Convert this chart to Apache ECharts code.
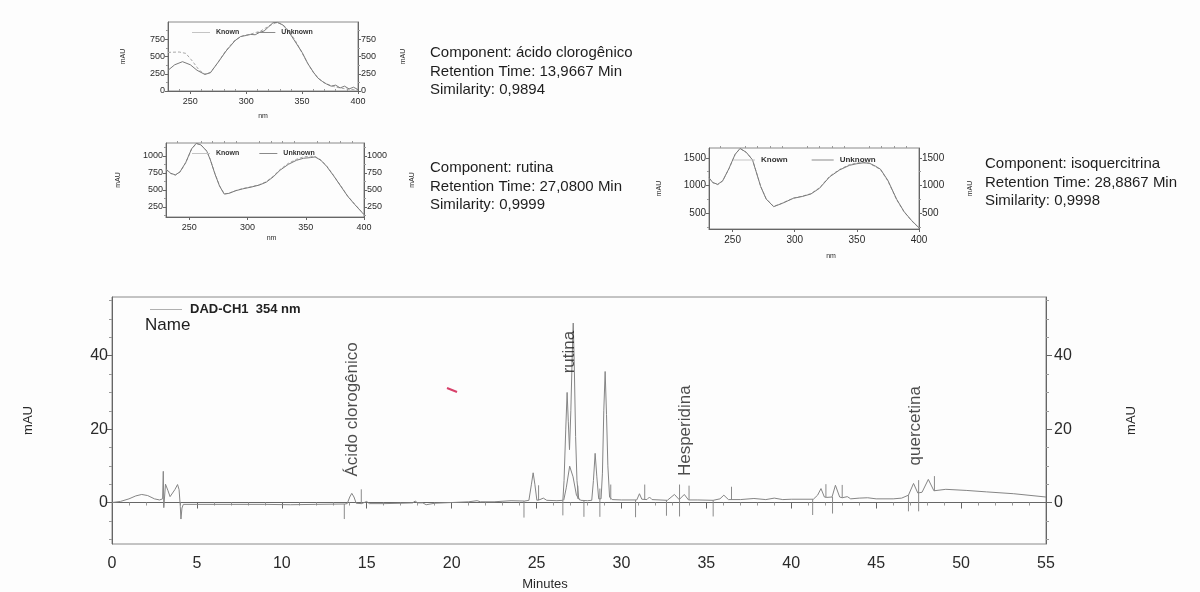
<!DOCTYPE html>
<html>
<head>
<meta charset="utf-8">
<script src="https://cdn.jsdelivr.net/npm/echarts@6/dist/echarts.min.js"></script>
<style>
  html, body { margin: 0; padding: 0; background: #fdfdfd; }
  #chart { width: 1200px; height: 592px; }
</style>
</head>
<body>
<div id="chart"></div>
<script>
const FONT = 'Liberation Sans, Arial, sans-serif';

// DAD-CH1 354 nm chromatogram, [minutes, mAU]
const dadTrace = [
  [0, 0.0], [0.5, 0.3], [1.0, 1.0], [1.4, 1.8], [1.75, 2.2], [2.1, 1.9], [2.5, 1.0], [2.8, 0.7], [2.98, 1.0],
  [3.02, 8.5], [3.05, -1.4], [3.15, 5.0], [3.3, 3.2], [3.42, 1.6], [3.53, 1.3], [3.7, 3.5], [3.86, 4.9],
  [3.95, 3.5], [4.02, -1.0], [4.06, -4.5], [4.12, -1.5], [4.2, -0.5],
  [5, -0.5], [7, -0.5], [9, -0.5], [10.5, -0.6], [12, -0.5], [13.7, -0.4],
  [13.85, -0.3], [14.0, 1.5], [14.12, 2.5], [14.25, 1.5], [14.38, -0.2], [14.7, -0.3], [15.0, 0.3], [15.15, -0.3],
  [16, -0.3], [17, -0.2], [17.7, -0.1], [17.85, 0.4], [18.0, -0.1], [18.3, -0.1], [18.5, -0.6], [19, -0.2],
  [20, 0.0], [21, 0.2], [21.5, 0.5], [21.7, 0.2], [22.5, 0.2], [23.5, 0.5], [24.3, 0.4],
  [24.55, 0.6], [24.7, 5.0], [24.8, 8.1], [24.9, 5.0], [25.02, 0.6], [25.2, 0.8], [25.4, 1.2], [25.6, 0.6],
  [26.2, 0.5], [26.55, 0.6],
  [26.62, 6], [26.72, 20], [26.8, 30], [26.87, 22], [26.94, 14.4], [27.02, 25], [27.1, 40], [27.16, 48.9],
  [27.22, 38], [27.3, 18], [27.38, 6], [27.48, 1.2], [27.6, 0.6], [28.0, 0.5], [28.25, 0.6],
  [28.35, 6], [28.45, 13.4], [28.55, 7], [28.66, 1.0], [28.8, 1.0],
  [28.88, 8], [28.96, 25], [29.04, 35.7], [29.12, 24], [29.2, 10], [29.3, 1.5], [29.45, 0.8],
  [30, 0.7], [30.9, 0.7], [31.06, 2.4], [31.2, 0.9], [31.5, 0.8], [31.65, 1.5], [31.8, 0.8],
  [32.7, 0.6], [33.12, 2.2], [33.4, 0.8], [33.7, 2.2], [33.95, 0.7], [34.5, 0.7],
  [35.4, 0.6], [35.8, 1.0], [36.03, 2.0], [36.3, 0.8], [37, 0.8], [37.8, 1.1], [38.5, 0.8], [39, 1.2],
  [39.5, 0.8], [40, 0.9], [41.3, 0.9], [41.55, 2.0], [41.75, 3.8], [41.95, 1.5], [42.1, 1.4], [42.4, 1.5],
  [42.6, 4.7], [42.85, 1.5], [43.0, 1.3], [43.3, 1.6], [43.5, 1.0], [44, 1.2], [44.5, 1.3], [45, 1.0],
  [46, 1.0], [46.5, 1.2], [46.9, 2.0], [47.2, 5.2], [47.45, 2.6], [47.7, 2.8], [48.07, 6.3], [48.4, 3.2],
  [49.1, 3.6], [50.3, 3.3], [51.5, 2.9], [53.1, 2.4], [55, 1.5]
];

// broad envelope under the rutina doublet
const rutinaEnvelope = [[26.6, 0.6], [26.75, 4.0], [26.95, 9.9], [27.15, 7.0], [27.35, 2.0], [27.55, 0.6]];

// integration start/end marks, [minutes, from mAU, to mAU]
const integrationMarks = [
  [13.68, -4.5, -0.4], [14.68, -0.3, 3.6],
  [24.26, -4.1, 0.4], [25.12, 0.6, 4.7],
  [26.55, -3.5, 0.6], [27.43, 1.0, 4.6], [27.79, -3.9, 0.5], [28.73, -3.9, 3.8], [29.37, 0.8, 4.9],
  [30.83, -4.0, 0.7], [31.37, 0.8, 4.9], [32.65, -3.6, 0.6], [33.42, -3.8, 4.9], [33.98, 0.7, 4.6],
  [35.4, -3.8, 0.6], [36.48, 0.8, 4.3],
  [41.26, -3.4, 0.9], [42.04, 1.4, 5.0], [42.43, -3.0, 1.5], [43.0, 1.3, 4.8],
  [46.9, -2.4, 2.0], [47.5, -2.4, 6.1], [48.43, 3.2, 7.2]
];

const peakNames = ['Ácido clorogênico', 'rutina', 'Hesperidina', 'quercetina'];
const peakLabelAt = [[14.15, 7.1], [26.94, 35.2], [33.76, 7.2], [47.33, 10.1]];

const mauTicks = [0, 20, 40];
const mauMinorTicks = [-10, -5, 5, 10, 15, 25, 30, 35, 45, 50, 55];

// UV spectra, [nm, mAU]
const nmTicks = [250, 300, 350, 400];
const nmMinorTicks = [240, 260, 270, 280, 290, 310, 320, 330, 340, 360, 370, 380, 390];

const spec1Ticks = [0, 250, 500, 750];
const spec1Known = [
  [230, 560], [240, 565], [246, 545], [252, 430], [258, 300], [263, 245], [268, 270], [275, 420], [282, 590],
  [290, 740], [297, 800], [305, 830], [313, 870], [320, 940], [326, 985], [330, 980], [335, 930], [340, 830],
  [345, 700], [350, 550], [355, 400], [360, 270], [365, 175], [370, 115], [378, 65], [385, 40], [392, 25], [400, 15]
];
const spec1Unknown = [
  [230, 300], [236, 380], [243, 425], [250, 380], [256, 300], [263, 240], [268, 265], [275, 420], [282, 580],
  [290, 730], [295, 790], [300, 805], [304, 820], [308, 815], [312, 850], [316, 870], [320, 930], [324, 990],
  [328, 995], [333, 955], [338, 860], [344, 710], [350, 560], [355, 400], [360, 275], [364, 190], [368, 140],
  [372, 100], [376, 70], [380, 85], [384, 45], [388, 70], [392, 30], [396, 55], [400, 20]
];

const spec2Ticks = [250, 500, 750, 1000];
const spec2Known = [
  [230, 800], [234, 740], [238, 716], [242, 760], [247, 900], [252, 1100], [256, 1182], [260, 1160], [265, 1074],
  [268, 950], [272, 741], [276, 560], [280, 440], [284, 450], [290, 490], [296, 520], [303, 545], [310, 575],
  [316, 620], [322, 700], [328, 800], [335, 890], [342, 950], [348, 985], [354, 995], [358, 990], [363, 940],
  [368, 850], [374, 710], [380, 560], [386, 410], [392, 290], [400, 140]
];
const spec2Unknown = [
  [230, 805], [234, 745], [238, 720], [242, 765], [247, 905], [252, 1105], [256, 1185], [260, 1162], [265, 1070],
  [268, 945], [272, 735], [276, 555], [280, 438], [284, 448], [290, 488], [296, 515], [303, 540], [310, 570],
  [316, 612], [322, 690], [328, 790], [335, 875], [342, 935], [348, 965], [354, 975], [358, 985], [363, 935],
  [368, 845], [374, 705], [380, 555], [386, 405], [392, 285], [400, 135]
];

const spec3Ticks = [500, 1000, 1500];
const spec3Known = [
  [231, 1136], [234, 1050], [238, 1015], [242, 1080], [247, 1300], [252, 1560], [256, 1669], [261, 1600],
  [266, 1469], [269, 1250], [272.6, 984], [277, 760], [283, 620], [290, 680], [299, 773], [306, 805], [313, 851],
  [320, 960], [328, 1166], [336, 1290], [344, 1378], [350, 1410], [355, 1420], [360, 1400], [365, 1340],
  [369, 1287], [375, 1080], [382, 742], [388, 520], [394, 360], [400, 227]
];
const spec3Unknown = [
  [231, 1140], [234, 1055], [238, 1020], [242, 1085], [247, 1305], [252, 1565], [256, 1672], [261, 1602],
  [266, 1465], [269, 1245], [272.6, 980], [277, 755], [283, 615], [290, 676], [299, 768], [306, 800], [313, 845],
  [320, 950], [328, 1155], [336, 1280], [344, 1365], [350, 1395], [355, 1410], [360, 1405], [365, 1350],
  [369, 1295], [375, 1090], [382, 750], [388, 525], [394, 365], [400, 232]
];

const componentNames = ['ácido clorogênico', 'rutina', 'isoquercitrina'];
const retentionTimes = ['13,9667', '27,0800', '28,8867'];
const similarities = ['0,9894', '0,9999', '0,9998'];

// ---------------------------------------------------------------------------
const chart = echarts.init(document.getElementById('chart'));

const AXIS_COLOR = '#666';
const TEXT_COLOR = '#2a2a2a';
const TRACE_COLOR = '#858585';
const plain = v => String(v);

const grids = [
  { left: 112, top: 297, width: 934, height: 248 },
  { left: 168, top: 22, width: 190, height: 69 },
  { left: 166, top: 143, width: 198, height: 74 },
  { left: 709, top: 148, width: 210, height: 81 }
].map(g => Object.assign({ show: true, borderColor: '#8a8a8a', borderWidth: 1, backgroundColor: 'transparent' }, g));

const specX = [
  { min: 230, max: 400, font: 9, nameGap: 22, namePad: [0, 0, 0, 0] },
  { min: 230, max: 400, font: 9, nameGap: 18, namePad: [0, 0, 0, 13] },
  { min: 231, max: 400, font: 10, nameGap: 24, namePad: [0, 0, 0, 34] }
];
const specY = [
  { min: 0, max: 1000, ticks: spec1Ticks, font: 9, gapL: 41, gapR: 42 },
  { min: 100, max: 1190, ticks: spec2Ticks, font: 9, gapL: 44, gapR: 45 },
  { min: 210, max: 1680, ticks: spec3Ticks, font: 10, gapL: 46, gapR: 48 }
];
const specMinorY = [
  [125, 375, 625, 875],
  [125, 375, 625, 875, 1125],
  [250, 750, 1250]
];

const xAxes = [{
  type: 'value', gridIndex: 0, min: 0, max: 55, interval: 5,
  axisLine: { show: true, lineStyle: { color: AXIS_COLOR } },
  axisTick: { show: true, length: 6, lineStyle: { color: AXIS_COLOR } },
  minorTick: { show: true, splitNumber: 5, length: 3, lineStyle: { color: '#999' } },
  axisLabel: { fontFamily: FONT, fontSize: 16, color: TEXT_COLOR, margin: 12, formatter: plain },
  splitLine: { show: false },
  name: 'Minutes', nameLocation: 'middle', nameGap: 34,
  nameTextStyle: { fontFamily: FONT, fontSize: 13, color: TEXT_COLOR, padding: [0, 68, 0, 0] }
}];
const yAxes = [];

function yPair(gridIndex, position, min, max, major, minor, font, gap, tickLen) {
  yAxes.push({
    type: 'value', gridIndex, position, min, max,
    axisLine: { show: true, lineStyle: { color: AXIS_COLOR } },
    axisTick: { show: true, length: tickLen, customValues: major, lineStyle: { color: AXIS_COLOR } },
    axisLabel: {
      customValues: major, formatter: plain, fontFamily: FONT, fontSize: font, color: TEXT_COLOR,
      margin: gridIndex === 0 ? (position === 'right' ? 8 : 4) : 3
    },
    splitLine: { show: false },
    name: 'mAU', nameLocation: 'middle', nameGap: gap, nameRotate: 90,
    nameTextStyle: { fontFamily: FONT, fontSize: gridIndex === 0 ? 13 : 7, color: TEXT_COLOR }
  });
  yAxes.push({
    type: 'value', gridIndex, position, min, max,
    axisLine: { show: false },
    axisTick: { show: true, length: Math.max(2, tickLen / 2), customValues: minor, lineStyle: { color: '#999' } },
    axisLabel: { show: false },
    splitLine: { show: false }
  });
}

yPair(0, 'left', -11.3, 56, mauTicks, mauMinorTicks, 16, 77, 6);
yPair(0, 'right', -11.3, 56, mauTicks, mauMinorTicks, 16, 79, 6);

specX.forEach((sx, i) => {
  const gi = i + 1;
  xAxes.push({
    type: 'value', gridIndex: gi, min: sx.min, max: sx.max,
    axisLine: { show: true, lineStyle: { color: AXIS_COLOR } },
    axisTick: { show: true, length: 3, customValues: nmTicks, lineStyle: { color: AXIS_COLOR } },
    axisLabel: { customValues: nmTicks, formatter: plain, fontFamily: FONT, fontSize: sx.font, color: TEXT_COLOR, margin: 6 },
    splitLine: { show: false },
    name: 'nm', nameLocation: 'middle', nameGap: sx.nameGap,
    nameTextStyle: { fontFamily: FONT, fontSize: 7, color: TEXT_COLOR, padding: sx.namePad }
  });
  xAxes.push({
    type: 'value', gridIndex: gi, min: sx.min, max: sx.max,
    axisLine: { show: false },
    axisTick: { show: true, length: 2, customValues: nmMinorTicks, lineStyle: { color: '#999' } },
    axisLabel: { show: false },
    splitLine: { show: false }
  });
  const sy = specY[i];
  yPair(gi, 'left', sy.min, sy.max, sy.ticks, specMinorY[i], sy.font, sy.gapL, 3);
  yPair(gi, 'right', sy.min, sy.max, sy.ticks, specMinorY[i], sy.font, sy.gapR, 3);
});

const series = [
  {
    type: 'line', name: 'DAD-CH1  354 nm', xAxisIndex: 0, yAxisIndex: 0, data: dadTrace,
    symbol: 'none', lineStyle: { color: TRACE_COLOR, width: 1 }, itemStyle: { color: '#b0b0b0' }, z: 3
  },
  {
    type: 'line', name: 'envelope', xAxisIndex: 0, yAxisIndex: 0, data: rutinaEnvelope,
    symbol: 'none', lineStyle: { color: TRACE_COLOR, width: 1 }, z: 3
  },
  {
    type: 'custom', name: 'marks', xAxisIndex: 0, yAxisIndex: 0, data: integrationMarks,
    encode: { x: 0, y: [1, 2] },
    renderItem(params, api) {
      const a = api.coord([api.value(0), api.value(1)]);
      const b = api.coord([api.value(0), api.value(2)]);
      return { type: 'line', shape: { x1: a[0], y1: a[1], x2: b[0], y2: b[1] }, style: { stroke: '#8a8a8a', lineWidth: 1 } };
    },
    z: 2
  },
  {
    type: 'scatter', name: 'peaks', xAxisIndex: 0, yAxisIndex: 0, symbolSize: 0,
    data: peakLabelAt.map((p, i) => ({ value: p, name: peakNames[i] })),
    label: {
      show: true, formatter: p => p.name, position: 'inside', rotate: 90,
      align: 'left', verticalAlign: 'middle',
      fontFamily: FONT, fontSize: 17, color: '#1e1e1e'
    },
    z: 4
  }
];

const specSets = [[spec1Known, spec1Unknown], [spec2Known, spec2Unknown], [spec3Known, spec3Unknown]];
specSets.forEach((pair, i) => {
  const xi = 1 + i * 2;
  const yi = 4 + i * 4;
  series.push({
    type: 'line', name: 'Known', xAxisIndex: xi, yAxisIndex: yi, data: pair[0], symbol: 'none',
    lineStyle: { color: '#a8a8a8', width: 1, type: [3, 2] }, itemStyle: { color: '#c4c4c4' }
  });
  series.push({
    type: 'line', name: 'Unknown', xAxisIndex: xi, yAxisIndex: yi, data: pair[1], symbol: 'none',
    lineStyle: { color: '#7a7a7a', width: 1 }, itemStyle: { color: '#8a8a8a' }
  });
});

const specLegend = (left, top, font, w, gap) => ({
  data: ['Known', 'Unknown'], left, top, itemWidth: w, itemHeight: 1, itemGap: gap,
  icon: 'rect', selectedMode: false,
  textStyle: { fontFamily: FONT, fontSize: font, fontWeight: 'bold', color: '#333', padding: [0, 0, 0, 1] }
});

const infoTexts = componentNames.map((c, i) => [
  'Component: ' + c,
  'Retention Time: ' + retentionTimes[i] + ' Min',
  'Similarity: ' + similarities[i]
].join('\n'));
const infoPos = [[430, 44], [430, 159], [985, 155]];

chart.setOption({
  animation: false,
  backgroundColor: '#fdfdfd',
  grid: grids,
  xAxis: xAxes,
  yAxis: yAxes,
  series,
  legend: [
    {
      data: ['DAD-CH1  354 nm'], left: 145, top: 298, itemWidth: 32, itemHeight: 1, icon: 'rect', selectedMode: false,
      textStyle: { fontFamily: FONT, fontSize: 13, fontWeight: 'bold', color: '#222', padding: [0, 0, 0, 3] }
    },
    specLegend(187, 24, 7, 18, 18),
    specLegend(187, 145, 7, 18, 20),
    specLegend(728, 151, 8, 22, 24)
  ],
  graphic: [
    {
      type: 'text', left: 145, top: 317,
      style: { text: 'Name', fontFamily: FONT, fontSize: 17, fill: '#1e1e1e' }
    },
    ...infoTexts.map((t, i) => ({
      type: 'text', left: infoPos[i][0], top: infoPos[i][1],
      style: { text: t, fontFamily: FONT, fontSize: 15, lineHeight: 18.5, fill: '#1e1e1e' }
    })),
    {
      type: 'line', shape: { x1: 447, y1: 388, x2: 457, y2: 392 },
      style: { stroke: '#d8406a', lineWidth: 2 }
    }
  ]
});
</script>
</body>
</html>
